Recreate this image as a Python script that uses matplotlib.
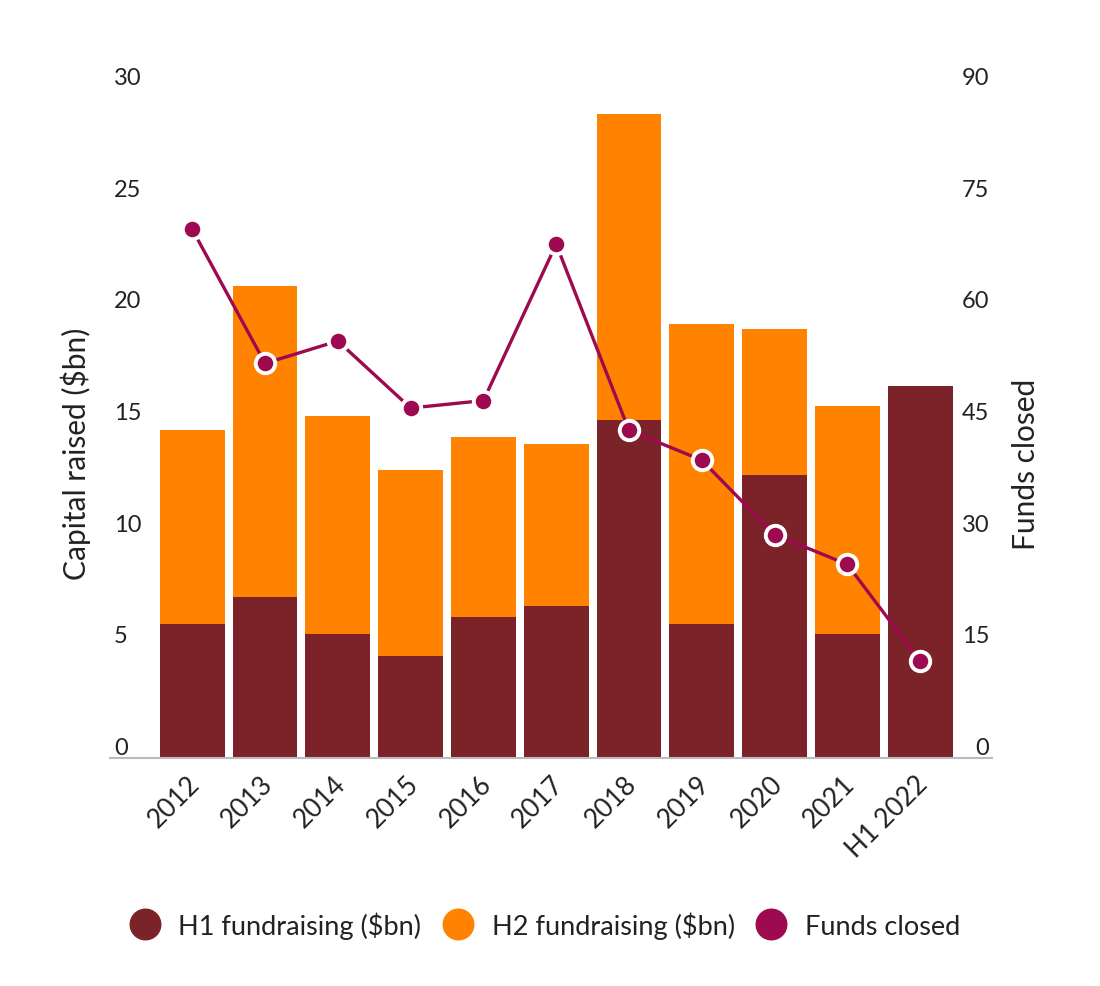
import numpy as np
import matplotlib
matplotlib.use("Agg")
import matplotlib.pyplot as plt
import matplotlib.transforms as mtransforms
from matplotlib.lines import Line2D

years = ["2012", "2013", "2014", "2015", "2016", "2017", "2018", "2019", "2020", "2021", "H1 2022"]
h1 = [6.0, 7.2, 5.55, 4.55, 6.3, 6.8, 15.15, 6.0, 12.65, 5.55, 16.65]
total = [14.7, 21.15, 15.3, 12.9, 14.35, 14.05, 28.85, 19.45, 19.2, 15.75, 16.65]
h2 = [t - a for t, a in zip(total, h1)]
funds = [71, 53, 56, 47, 48, 69, 44, 40, 30, 26, 13]

c_h1 = "#7B2329"
c_h2 = "#FF8300"
c_line = "#9E0A4F"
txt = "#222222"

plt.rcParams['font.family'] = ['Lato', 'DejaVu Sans']

fig = plt.figure(figsize=(11, 9.87), dpi=100)
ax = fig.add_axes([0.1, 0.231, 0.802, 0.679])
x = np.arange(len(years))

ax.bar(x, h1, width=0.89, color=c_h1, zorder=2)
ax.bar(x, h2, bottom=h1, width=0.89, color=c_h2, zorder=2)

ax.set_xlim(-1.13, 10.99)
ax.set_ylim(0, 30)
ax.set_yticks([0, 5, 10, 15, 20, 25, 30])
ax.tick_params(axis='y', length=0, pad=-3, labelsize=17, colors=txt)
for lab in ax.get_yticklabels():
    lab.set_ha('left')
    lab.set_va('bottom')
ax.set_xticks(x)
ax.set_xticklabels(years, rotation=45, ha='right', rotation_mode='anchor')
ax.tick_params(axis='x', length=0, pad=9, labelsize=19, colors=txt)
shift = mtransforms.ScaledTranslation(-5 / 100, 0, fig.dpi_scale_trans)
for lab in ax.get_xticklabels():
    lab.set_transform(lab.get_transform() + shift)
for s in ['top', 'left', 'right']:
    ax.spines[s].set_visible(False)
ax.spines['bottom'].set_color("#bbbbbb")
ax.spines['bottom'].set_linewidth(1.5)
ax.set_ylabel("Capital raised ($bn)", fontsize=21.5, color=txt)
ax.yaxis.set_label_coords(-0.022, 0.455)

ax2 = ax.twinx()
ax2.plot(x, funds, color=c_line, lw=2.4, marker='o', ms=14, mfc=c_line, mec='white', mew=2.8, zorder=3)
ax2.set_ylim(0, 90)
ax2.set_yticks([0, 15, 30, 45, 60, 75, 90])
ax2.tick_params(axis='y', length=0, pad=-2, labelsize=17, colors=txt)
for lab in ax2.get_yticklabels():
    lab.set_ha('right')
    lab.set_va('bottom')
for s in ax2.spines.values():
    s.set_visible(False)
ax2.set_ylabel("Funds closed", fontsize=21.5, color=txt)
ax2.yaxis.set_label_coords(1.022, 0.44)

handles = [
    Line2D([], [], ls='none', marker='o', ms=22, color=c_h1),
    Line2D([], [], ls='none', marker='o', ms=22, color=c_h2),
    Line2D([], [], ls='none', marker='o', ms=22, color=c_line),
]
fig.legend(handles, ["H1 fundraising ($bn)", "H2 fundraising ($bn)", "Funds closed"],
           loc='center', bbox_to_anchor=(0.49, 0.062), ncol=3, frameon=False,
           fontsize=19.5, handletextpad=0.25, columnspacing=0.35, labelcolor=txt)

fig.savefig("out.png", dpi=100, facecolor='white')
